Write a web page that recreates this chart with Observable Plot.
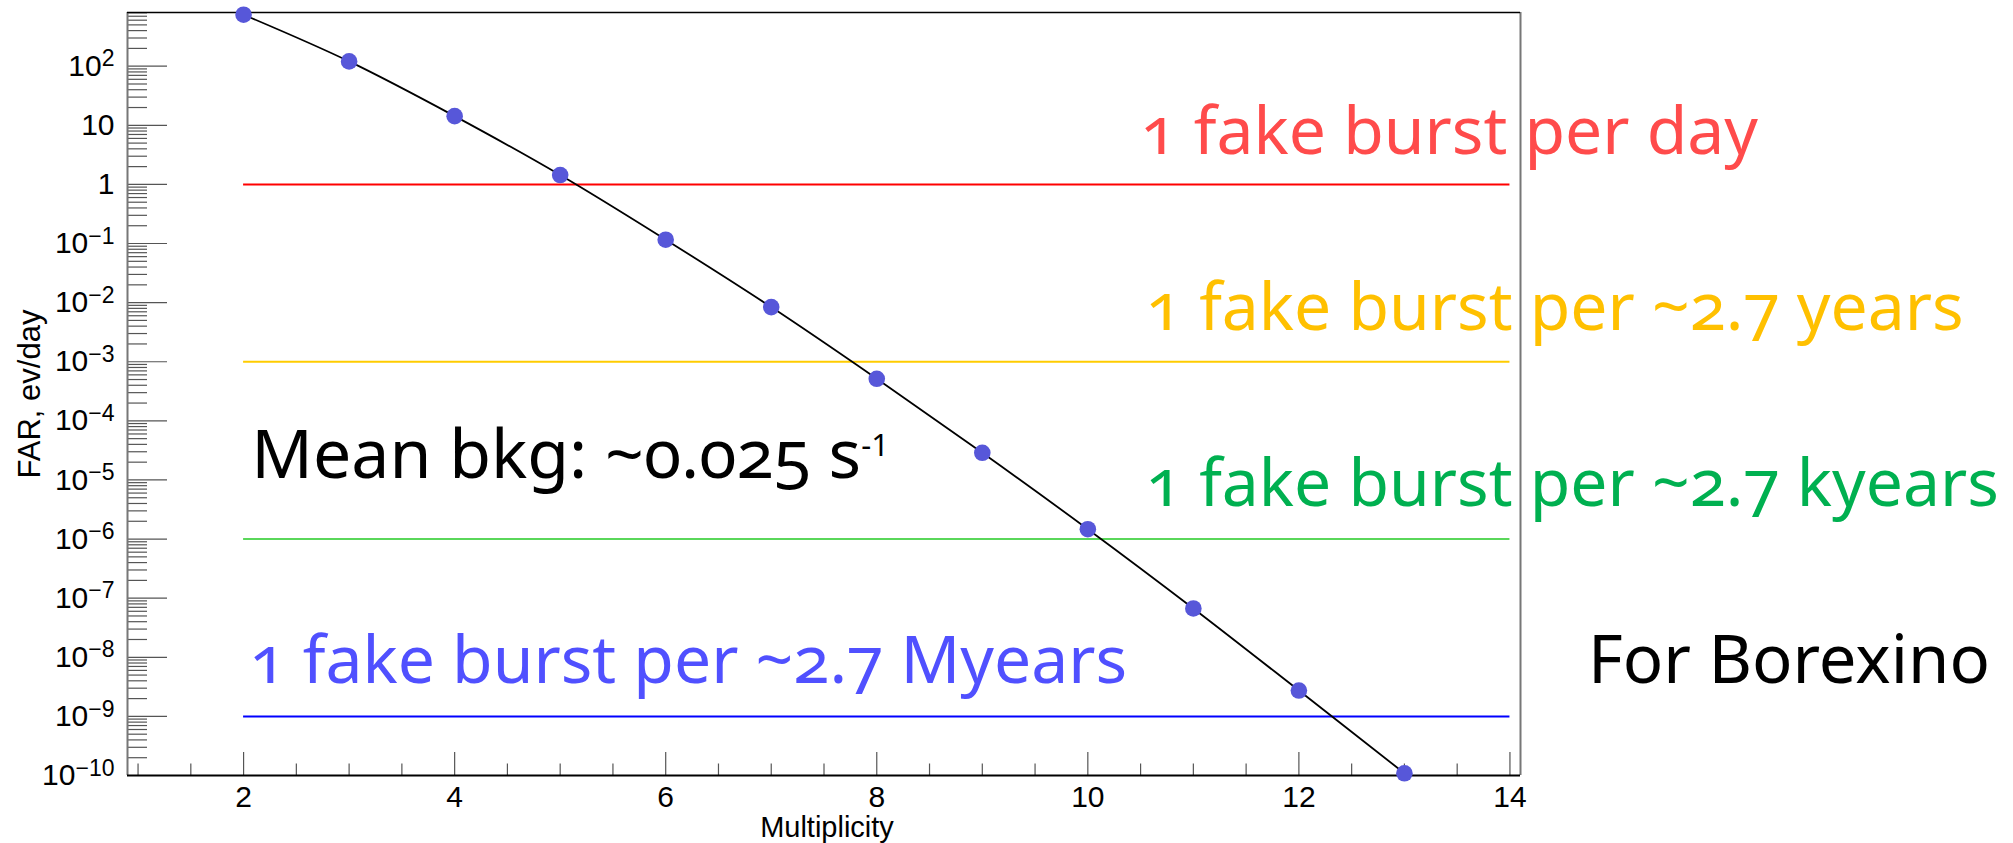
<!DOCTYPE html>
<html><head><meta charset="utf-8">
<script src="https://cdn.jsdelivr.net/npm/d3@7"></script>
<script src="https://cdn.jsdelivr.net/npm/@observablehq/plot@0.6"></script>
<style>
html,body{margin:0;padding:0;background:#fff;}
#chart svg{display:block;}
svg g[font-family="Noto Sans"] text{font-variant-numeric:oldstyle-nums;}
</style>
</head><body><div id="chart"></div>
<script>
// ---- data ----
const multiplicity = [2, 3, 4, 5, 6, 7, 8, 9, 10, 11, 12, 13];
const far = [743, 120.5, 14.3, 1.44, 0.116, 8.4e-3, 5.15e-4, 2.88e-5, 1.47e-6, 6.7e-8, 2.74e-9, 1.09e-10];
const thresholds = [1, 1e-3, 1e-6, 1e-9];
const thresholdLabels = ["1 fake burst per day", "1 fake burst per ~2.7 years", "1 fake burst per ~2.7 kyears", "1 fake burst per ~2.7 Myears"];
const noteLabels = ["Mean bkg: ~0.025 s^-1", "For Borexino"];
const yTickValues = [1e-10, 1e-9, 1e-8, 1e-7, 1e-6, 1e-5, 1e-4, 1e-3, 1e-2, 1e-1, 1, 10, 100];
const yTickLabels = ["10^\u221210", "10^\u22129", "10^\u22128", "10^\u22127", "10^\u22126", "10^\u22125", "10^\u22124", "10^\u22123", "10^\u22122", "10^\u22121", "1", "10", "10^2"];
const xTickValues = [2, 4, 6, 8, 10, 12, 14];
const xTickLabels = ["2", "4", "6", "8", "10", "12", "14"];
const xMinorTicks = [1, 1.5, 2.5, 3, 3.5, 4.5, 5, 5.5, 6.5, 7, 7.5, 8.5, 9, 9.5, 10.5, 11, 11.5, 12.5, 13, 13.5];
const xTitle = "Multiplicity";
const yTitle = "FAR, ev/day";

// ---- layout / style ----
const W = 2013, H = 843;
const mL = 127, mR = 493, mT = 12, mB = 68;
const fw = W - mL - mR, fh = H - mT - mB;
const yMax = 810;
const xDomain = [0.9, 14.1];
const lineColors = ["#ff0000", "#ffcc00", "#5ad75a", "#0000ff"];
const textColors = ["#ff4b4b", "#ffc000", "#00b050", "#5050ff"];

const minorY = [];
for (let e = -10; e <= 2; e++) for (let m = 2; m <= 9; m++) { const v = m * Math.pow(10, e); if (v < yMax) minorY.push(v); }

const data = multiplicity.map((m, i) => ({m, far: far[i]}));
const annoFont = "Noto Sans";
const annoPos = [
  {x: 10.5, y: 3.3},
  {x: 10.55, y: 3.48e-3},
  {x: 10.55, y: 3.56e-6},
  {x: 2.056, y: 3.67e-9}
];

const plot = Plot.plot({
  width: W, height: H,
  marginLeft: mL, marginRight: mR, marginTop: mT, marginBottom: mB,
  style: {background: "white", fontFamily: "'Liberation Sans', Arial, sans-serif", overflow: "visible"},
  x: {domain: xDomain},
  y: {type: "log", domain: [1e-10, yMax]},
  marks: [
    // threshold lines
    ...thresholds.map((v, i) => Plot.ruleY([v], {x1: 2, x2: 14, stroke: lineColors[i], strokeWidth: 2})),
    // ticks (inside frame)
    Plot.tickY(minorY, {insetRight: fw - 20, stroke: "#555", strokeWidth: 1.2}),
    Plot.tickY(yTickValues, {insetRight: fw - 40, stroke: "#555", strokeWidth: 1.2}),
    Plot.tickX(xMinorTicks, {insetTop: fh - 11.5, stroke: "#555", strokeWidth: 1.2}),
    Plot.tickX(xTickValues, {insetTop: fh - 23, stroke: "#555", strokeWidth: 1.2}),
    // frame
    Plot.ruleX([xDomain[0]], {stroke: "#777", strokeWidth: 2}),
    Plot.ruleX([xDomain[1]], {stroke: "#777", strokeWidth: 2}),
    Plot.ruleY([yMax], {stroke: "black", strokeWidth: 1.5}),
    Plot.ruleY([1e-10], {stroke: "black", strokeWidth: 2}),
    // axes
    Plot.axisY(yTickValues, {tickFormat: d => yTickLabels[yTickValues.indexOf(d)], tickSize: 0, tickPadding: 13, fontSize: 30, fill: "black", label: null}),
    Plot.axisX(xTickValues, {tickFormat: d => xTickLabels[xTickValues.indexOf(d)], tickSize: 0, tickPadding: 10, fontSize: 30, fill: "black", label: null}),
    Plot.text([xTitle], {text: d => d, frameAnchor: "bottom", dx: 3, dy: 61, lineAnchor: "bottom", fontSize: 29, fill: "black"}),
    Plot.text([yTitle], {text: d => d, frameAnchor: "left", rotate: -90, dx: -88, lineAnchor: "bottom", textAnchor: "middle", fontSize: 31, fill: "black"}),
    // curve and points
    Plot.line(data, {x: "m", y: "far", curve: "catmull-rom", stroke: "black", strokeWidth: 1.8}),
    Plot.dot(data, {x: "m", y: "far", r: 8.3, fill: "#5757d9", stroke: "none"}),
    // annotations
    ...thresholdLabels.map((t, i) => Plot.text([t], {text: d => d, x: annoPos[i].x, y: annoPos[i].y, textAnchor: "start", lineAnchor: "bottom", fontSize: 66, fontFamily: annoFont, fill: textColors[i]})),
    Plot.text([noteLabels[0]], {text: d => d, x: 2.073, y: 1.1e-5, textAnchor: "start", lineAnchor: "bottom", fontSize: 68, fontFamily: annoFont, fill: "black"}),
    Plot.text([noteLabels[1]], {text: d => d, x: 14.74, y: 3.66e-9, textAnchor: "start", lineAnchor: "bottom", fontSize: 67, fontFamily: annoFont, fill: "black"})
  ]
});

// superscripts
function superscripts(root, sel, size, raise, lining) {
  root.querySelectorAll(sel).forEach(t => {
    const s = t.textContent;
    const k = s.indexOf("^");
    if (k < 0) return;
    t.textContent = s.slice(0, k);
    const sp = document.createElementNS("http://www.w3.org/2000/svg", "tspan");
    sp.setAttribute("font-size", size);
    sp.setAttribute("dy", -raise);
    if (lining) sp.style.fontVariantNumeric = "lining-nums";
    sp.textContent = s.slice(k + 1);
    t.appendChild(sp);
  });
}
superscripts(plot, 'g[aria-label="y-axis tick label"] text', 23, 9.5, false);
superscripts(plot, 'g[font-family="Noto Sans"] text', 31, 22, true);

document.getElementById("chart").appendChild(plot);
</script>
</body></html>
